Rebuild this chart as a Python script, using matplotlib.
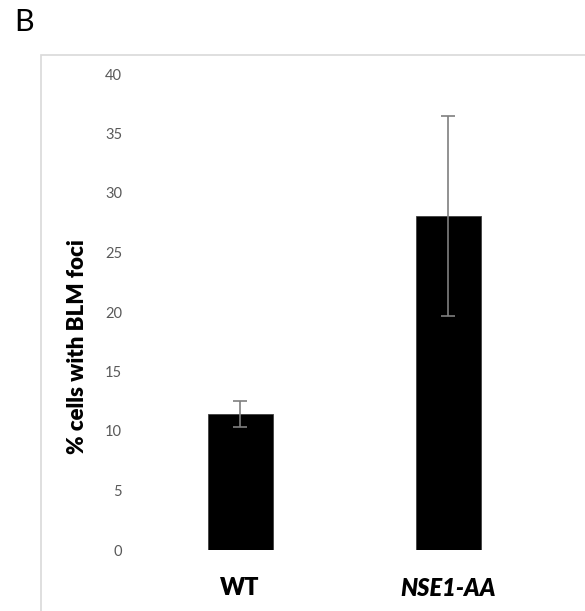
import matplotlib.pyplot as plt
from matplotlib.patches import Rectangle

# data
groups = ['WT', 'NSE1-AA']
pct_foci = [11.4, 28.1]
err = [1.1, 8.4]
yticks = [0, 5, 10, 15, 20, 25, 30, 35, 40]

W, H = 585, 611
fig = plt.figure(figsize=(W / 100, H / 100), dpi=100)
plt.rcParams['font.family'] = ['Lato', 'DejaVu Sans']

# light gray chart frame (runs off right/bottom edge)
fig.patches.append(Rectangle((41 / W, -0.1), 1.0, (H - 55.5) / H + 0.1,
                             transform=fig.transFigure, fill=False,
                             edgecolor='#d9d9d9', linewidth=1.2))

ax = fig.add_axes([136 / W, (H - 550) / H, 416 / W, 476 / H])
x = range(len(groups))
ax.bar(x, pct_foci, width=0.3125, color='black', edgecolor='#404040', linewidth=0.6)
ax.errorbar(x, pct_foci, yerr=err, fmt='none', ecolor='#7f7f7f',
            elinewidth=1.2, capsize=5, capthick=1.2)

ax.set_xlim(-0.5, 1.5)
ax.set_ylim(0, 40)
ax.set_yticks(yticks)
ax.set_yticklabels([str(t) for t in yticks], color='#595959', fontsize=10.5)
ax.tick_params(axis='y', length=0, pad=10)
ax.set_xticks([])
for s in ax.spines.values():
    s.set_visible(False)

ax.text(0, -3.2, groups[0], ha='center', va='center', fontsize=17, fontweight='heavy')
ax.text(1, -3.2, groups[1], ha='center', va='center', fontsize=17,
        fontweight='heavy', style='italic')

fig.text(78 / W, 1 - 347 / H, '% cells with BLM foci', rotation=90,
         ha='center', va='center', fontsize=16, fontweight='heavy')
fig.text(14 / W, 1 - 22 / H, 'B', ha='left', va='center', fontsize=22)

fig.savefig('out.png', dpi=100)
